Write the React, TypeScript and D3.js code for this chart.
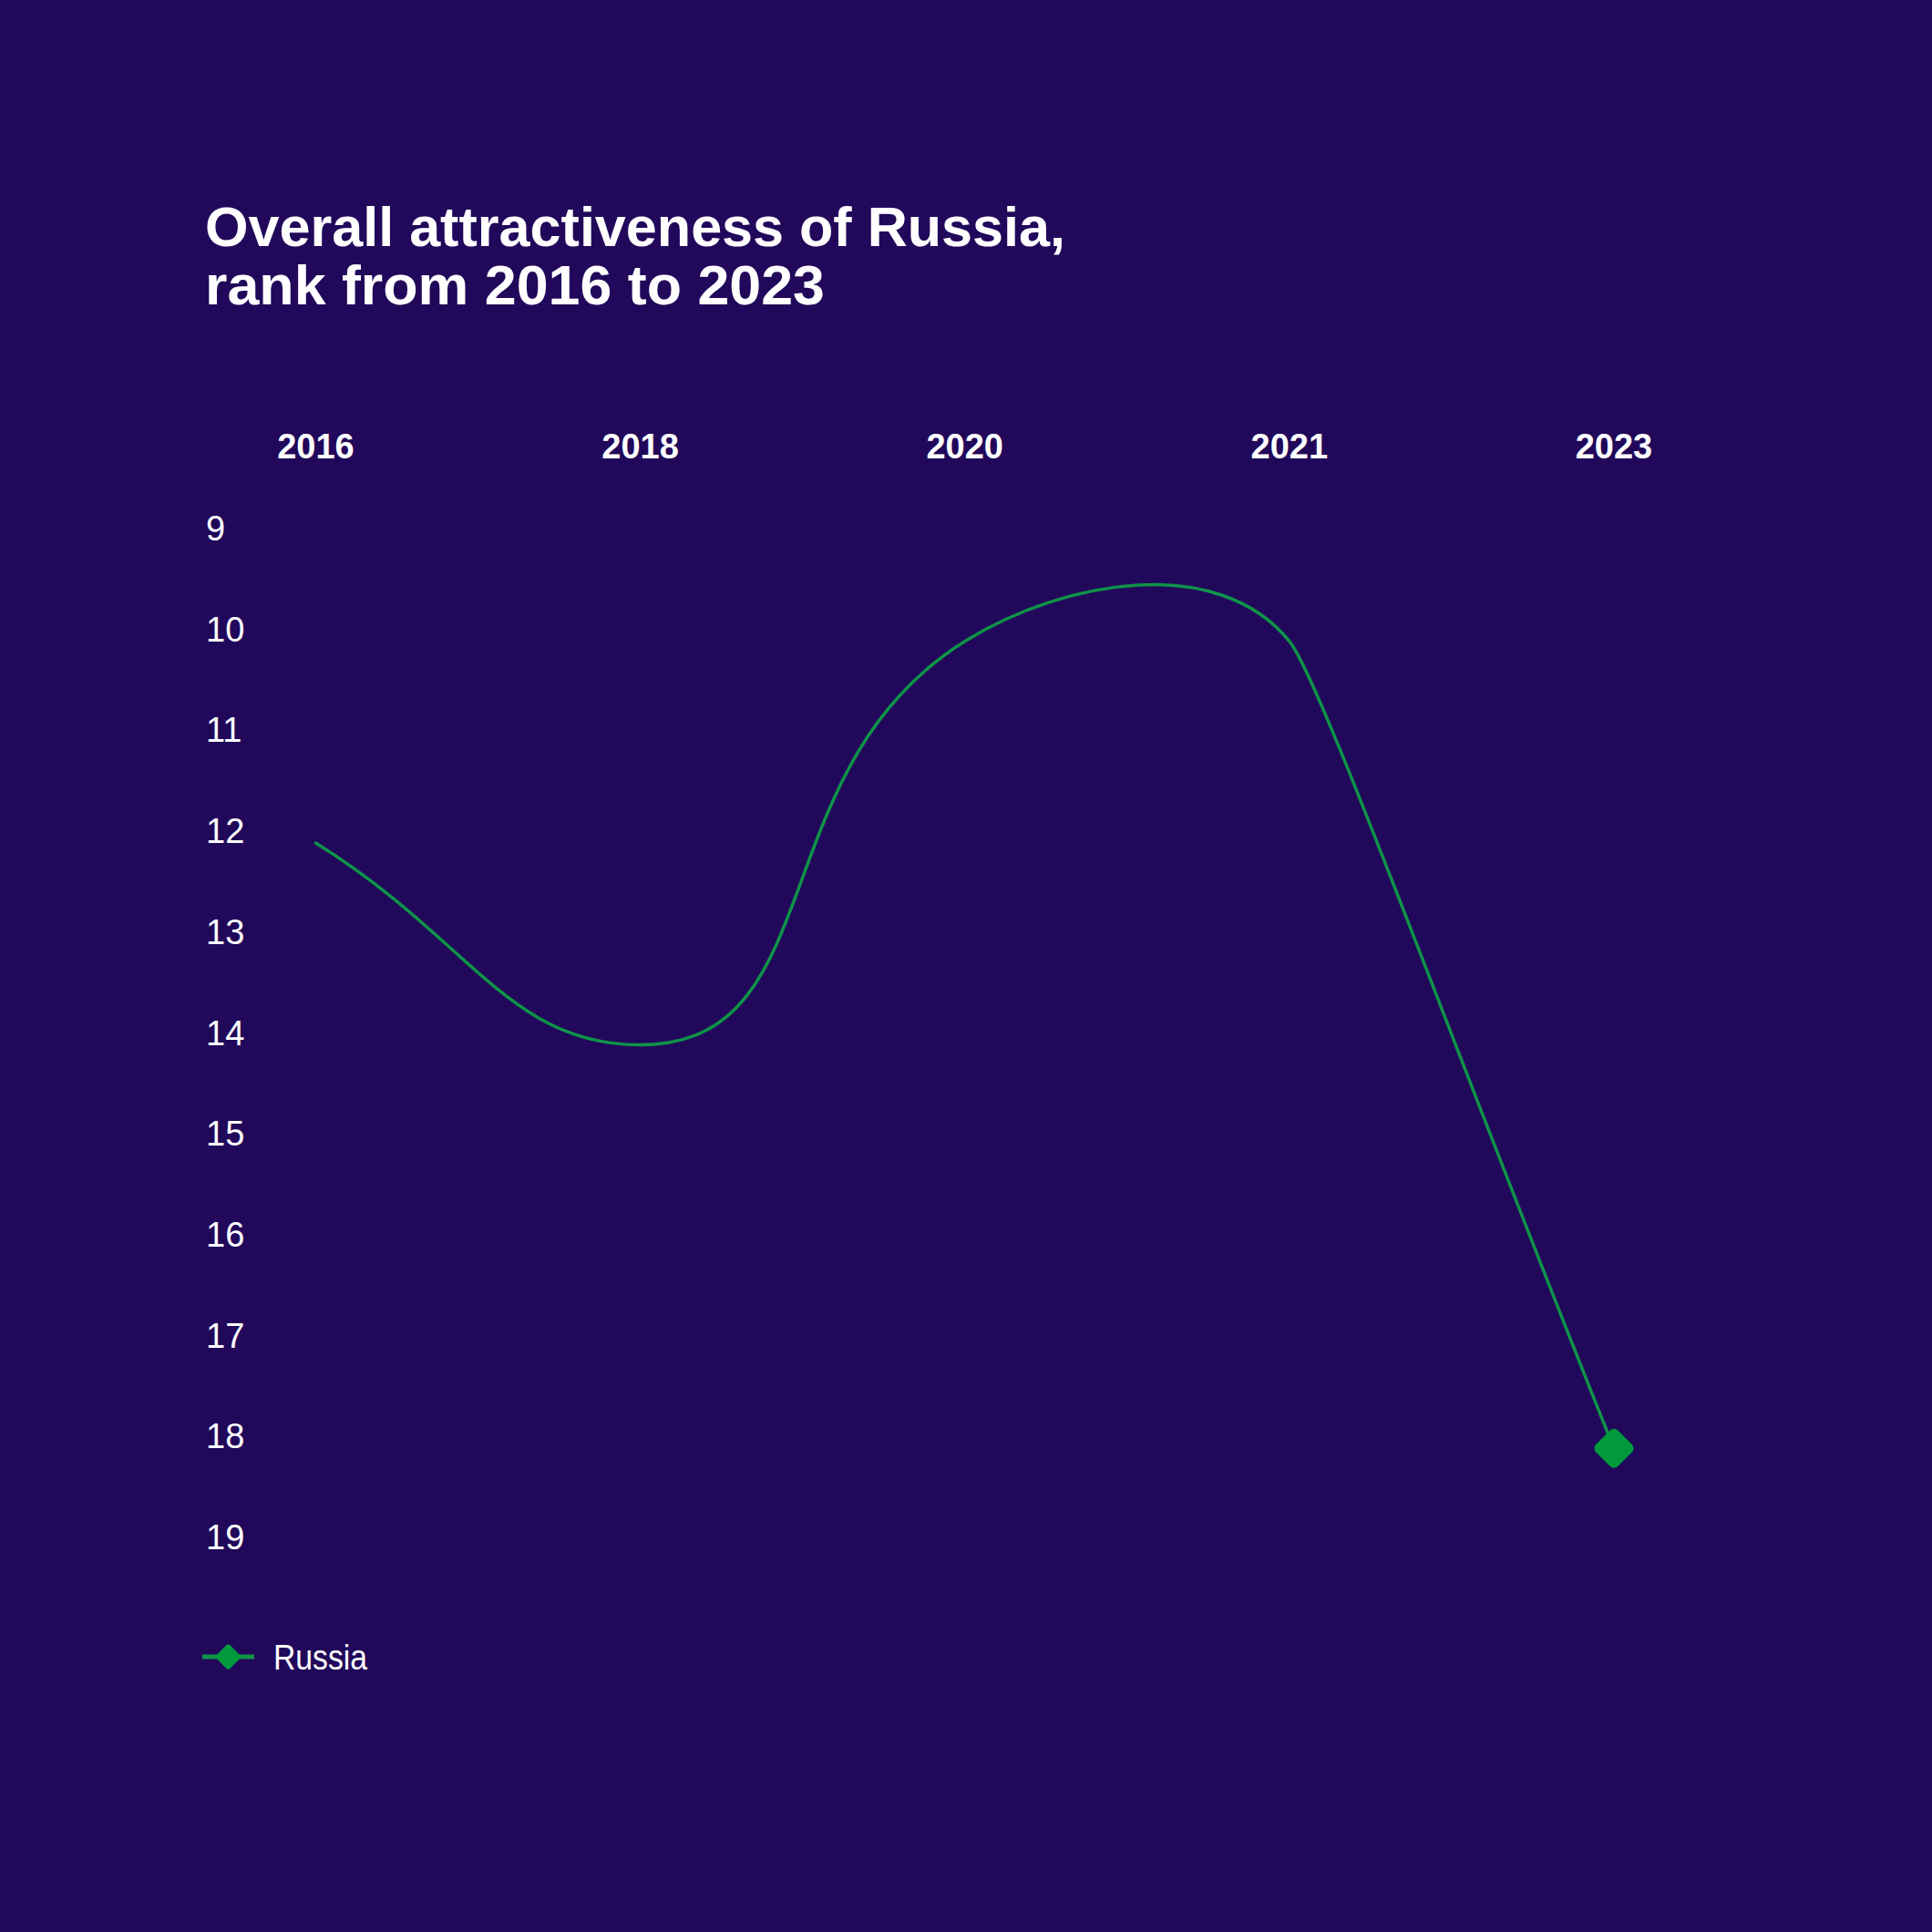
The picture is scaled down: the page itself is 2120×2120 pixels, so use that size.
import React, { useEffect, useRef } from 'react';
import * as d3 from 'd3';

const years = ['2016', '2018', '2020', '2021', '2023'];
const russiaRank = [12, 14, 10, 10, 18];
const rankTicks = [9, 10, 11, 12, 13, 14, 15, 16, 17, 18, 19];
const titleLines = ['Overall attractiveness of Russia,', 'rank from 2016 to 2023'];
const seriesName = 'Russia';

const BG = '#21085a';
const LINE = '#0f9349';
const MARKER = '#009a3d';
const FONT = '"Liberation Sans", Arial, "DejaVu Sans", sans-serif';

// spline in the style of the source tool: handles split by neighbour distance,
// longer on steep segments, level at turning points, and the last segment
// runs almost straight into the end marker
const splineCurve = (context: any) => {
  let pts: [number, number][] = [];
  const tension = (a: [number, number], b: [number, number]) => {
    const len = Math.hypot(b[0] - a[0], b[1] - a[1]);
    return 0.4 + 0.15 * (len ? Math.abs(b[1] - a[1]) / len : 0);
  };
  return {
    areaStart() {},
    areaEnd() {},
    lineStart() { pts = []; },
    point(x: number, y: number) { pts.push([+x, +y]); },
    lineEnd() {
      const n = pts.length;
      if (!n) return;
      context.moveTo(pts[0][0], pts[0][1]);
      if (n === 1) return;
      const ctrl = pts.map((p, i) => {
        const prev = pts[Math.max(i - 1, 0)];
        const next = pts[Math.min(i + 1, n - 1)];
        const d01 = Math.hypot(p[0] - prev[0], p[1] - prev[1]);
        const d12 = Math.hypot(next[0] - p[0], next[1] - p[1]);
        let fa = tension(prev, p) * (d01 / (d01 + d12) || 0);
        let fb = tension(p, next) * (d12 / (d01 + d12) || 0);
        if (i === n - 2) fb = 0.05;
        if (i === n - 1) fa = 0.5;
        const dx = next[0] - prev[0];
        let dy = next[1] - prev[1];
        if (i > 0 && i < n - 1 && (p[1] - prev[1]) * (p[1] - next[1]) > 0) dy = 0;
        return {
          prev: [p[0] - fa * dx, p[1] - fa * dy],
          next: [p[0] + fb * dx, p[1] + fb * dy],
        };
      });
      for (let i = 1; i < n; i++) {
        const c1 = ctrl[i - 1].next;
        const c2 = ctrl[i].prev;
        context.bezierCurveTo(c1[0], c1[1], c2[0], c2[1], pts[i][0], pts[i][1]);
      }
    },
  };
};

const App: React.FC = () => {
  const svgRef = useRef<SVGSVGElement>(null);

  useEffect(() => {
    document.body.style.margin = '0';
    document.body.style.background = BG;
    if (!svgRef.current) return;

    const width = 2120;
    const height = 2120;
    const svg = d3.select(svgRef.current);
    svg.selectAll('*').remove();

    svg.append('rect').attr('width', width).attr('height', height).attr('fill', BG);

    const x = d3.scalePoint<string>().domain(years).range([346.5, 1771]);
    const y = d3.scaleLinear().domain([9, 19]).range([593, 1700]);

    // Title
    svg.append('g')
      .selectAll('text')
      .data(titleLines)
      .enter()
      .append('text')
      .attr('x', 225)
      .attr('y', (_, i) => 270 + i * 64)
      .attr('fill', '#fff')
      .attr('font-family', FONT)
      .attr('font-weight', 700)
      .attr('font-size', 61)
      .attr('textLength', (_, i) => (i === 0 ? 944 : 680))
      .attr('lengthAdjust', 'spacingAndGlyphs')
      .text(d => d);

    // Year labels on top
    svg.append('g')
      .selectAll('text')
      .data(years)
      .enter()
      .append('text')
      .attr('x', d => x(d)!)
      .attr('y', 503)
      .attr('text-anchor', 'middle')
      .attr('fill', '#fff')
      .attr('font-family', FONT)
      .attr('font-weight', 700)
      .attr('font-size', 38)
      .text(d => d);

    // Rank labels, baseline on the value
    svg.append('g')
      .selectAll('text')
      .data(rankTicks)
      .enter()
      .append('text')
      .attr('x', 226)
      .attr('y', d => y(d))
      .attr('fill', '#fff')
      .attr('font-family', FONT)
      .attr('font-size', 38)
      .text(d => d);

    const line = d3.line<number>()
      .x((_, i) => x(years[i])!)
      .y(d => y(d))
      .curve(splineCurve as any);

    svg.append('path')
      .datum(russiaRank)
      .attr('d', line)
      .attr('fill', 'none')
      .attr('stroke', LINE)
      .attr('stroke-width', 3.5)
      .attr('stroke-linecap', 'round')
      .attr('stroke-linejoin', 'round');

    // End marker (rounded diamond)
    const last = russiaRank.length - 1;
    const mx = x(years[last])!;
    const my = y(russiaRank[last]);
    const side = 34;
    svg.append('rect')
      .attr('x', mx - side / 2)
      .attr('y', my - side / 2)
      .attr('width', side)
      .attr('height', side)
      .attr('rx', 6)
      .attr('fill', MARKER)
      .attr('transform', `rotate(45 ${mx} ${my})`);

    // Legend
    const legend = svg.append('g').attr('transform', 'translate(222,1818)');
    legend.append('line')
      .attr('x1', 0).attr('x2', 57)
      .attr('stroke', LINE)
      .attr('stroke-width', 5);
    const ls = 21;
    legend.append('rect')
      .attr('x', 28.5 - ls / 2)
      .attr('y', -ls / 2)
      .attr('width', ls)
      .attr('height', ls)
      .attr('rx', 3)
      .attr('fill', MARKER)
      .attr('transform', 'rotate(45 28.5 0)');
    legend.append('text')
      .attr('x', 78)
      .attr('y', 14)
      .attr('fill', '#fff')
      .attr('font-family', FONT)
      .attr('font-size', 38)
      .attr('textLength', 103)
      .attr('lengthAdjust', 'spacingAndGlyphs')
      .text(seriesName);
  }, []);

  return <svg ref={svgRef} width={2120} height={2120} viewBox="0 0 2120 2120" style={{ display: 'block' }} />;
};

export default App;
